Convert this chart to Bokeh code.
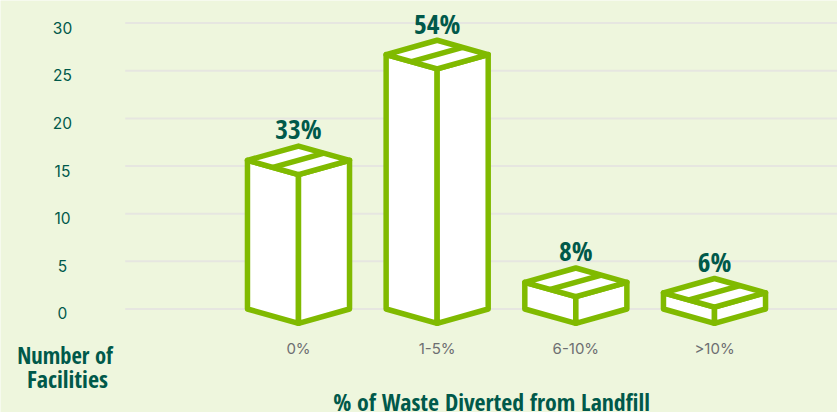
from bokeh.plotting import figure
from bokeh.models import Range1d, ColumnDataSource
from bokeh.core.properties import value
from bokeh.embed import file_html
from bokeh.resources import INLINE

categories = ["0%", "1-5%", "6-10%", ">10%"]
shares = ["33%", "54%", "8%", "6%"]
heights = [15.6, 26.7, 2.8, 1.7]
y_ticks = [0, 5, 10, 15, 20, 25, 30]

BG = "#eef6dd"; GREEN = "#80ba00"; DARK = "#00594a"; GREY = "#6d6e71"; GRID = "#e6e6e0"
COND = value("Open Sans Condensed")
HW = 0.368   # half box width, in x units
D = 1.5      # half depth of the box's top face, in y units
X0, X1, Y0, Y1 = -2.149, 3.887, -10.86, 32.37
GRID_X = -1.25
TICK_X = -1.702

p = figure(width=837, height=412, output_backend="svg", toolbar_location=None,
           x_range=Range1d(X0, X1), y_range=Range1d(Y0, Y1),
           background_fill_color=BG, border_fill_color=BG,
           min_border_left=0, min_border_right=0, min_border_top=0, min_border_bottom=0)
p.outline_line_color = None
p.grid.visible = False
p.axis.visible = False

p.segment(x0=[GRID_X] * len(y_ticks), x1=[X1] * len(y_ticks), y0=y_ticks, y1=y_ticks,
          line_color=GRID, line_width=2)

p.text(x=[TICK_X] * len(y_ticks), y=y_ticks, text=[str(t) for t in y_ticks], y_offset=4.5,
       text_align="center", text_baseline="middle", text_font=value("Inter"),
       text_font_size="15.5px", text_color=DARK)

p.text(x=list(range(len(categories))), y=[Y0] * len(categories), text=categories, y_offset=-64,
       text_align="center", text_baseline="middle", text_font=value("Inter"),
       text_font_size="15px", text_color=GREY)

left, right, top, sx, sy = {"xs": [], "ys": []}, {"xs": [], "ys": []}, {"xs": [], "ys": []}, [], []
for i, h in enumerate(heights):
    left["xs"].append([i - HW, i, i, i - HW]);  left["ys"].append([0, -D, h - D, h])
    right["xs"].append([i, i + HW, i + HW, i]); right["ys"].append([-D, 0, h, h - D])
    top["xs"].append([i - HW, i, i + HW, i]);   top["ys"].append([h, h + D, h, h - D])
    sx.append([i - HW / 2, i + HW / 2]);        sy.append([h - D / 2, h + D / 2])

for face in (left, right, top):
    p.patches("xs", "ys", source=ColumnDataSource(face), fill_color="white",
              line_color=GREEN, line_width=5.5, line_join="round")
p.multi_line(sx, sy, line_color=GREEN, line_width=5.5)

p.text(x=list(range(len(shares))), y=heights, text=shares, text_align="center", text_baseline="alphabetic",
       y_offset=-31.5, text_font=COND, text_font_style="bold", text_font_size="27.5px", text_color=DARK)

# titles, placed in pixels from the frame's lower-left corner
def title(t, x, y, size):
    p.text(x=[X0], y=[Y0], text=[t], x_offset=x, y_offset=-y, text_align="center", text_baseline="alphabetic",
           text_font=COND, text_font_style="bold", text_font_size=size, text_color=DARK)

title("Number of", 64.5, 57, "22.5px")
title("Facilities", 67, 34, "24px")
title("% of Waste Diverted from Landfill", 491, 11, "23.8px")

open("out.html", "w").write(file_html(p, INLINE))
